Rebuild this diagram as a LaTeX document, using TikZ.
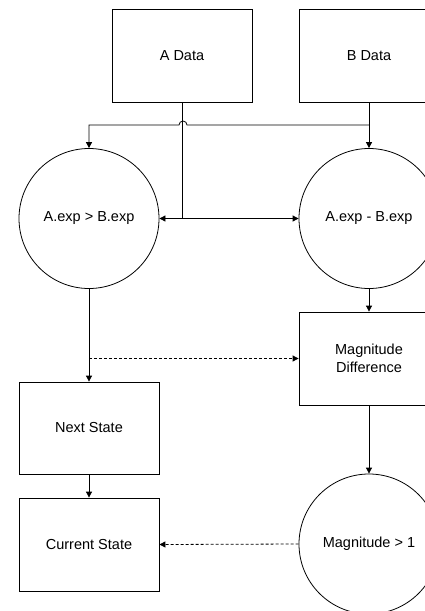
\documentclass[tikz,border=0pt]{standalone}
\usepackage{fontspec}
\setmainfont{Liberation Sans}
\usetikzlibrary{arrows.meta,calc}
\begin{document}
\begin{tikzpicture}[x=1pt,y=1pt,
  every node/.style={font=\fontsize{14.5}{18}\selectfont, align=center},
  boxnode/.style={draw, line width=0.8pt, minimum width=140pt, minimum height=93pt, inner sep=0pt},
  circnode/.style={draw, circle, line width=0.8pt, minimum size=140pt, inner sep=0pt},
  conn/.style={line width=0.8pt, -{Triangle[length=6pt,width=6pt]}},
  dashconn/.style={conn, dash pattern=on 3pt off 2pt}]
\useasboundingbox (0,0) rectangle (425,-611);
\fill[white] (0,0) rectangle (425,-611);
\clip (0,0) rectangle (425,-611);
\node[boxnode] (A) at (182,-55.5) {A Data};
\node[boxnode] (B) at (369,-55.5) {B Data};
\node[circnode] (L) at (89,-218.5) {A.exp > B.exp};
\node[circnode] (R) at (369,-218.5) {A.exp - B.exp};
\node[boxnode] (MD) at (369,-358.5) {Magnitude\\Difference};
\node[boxnode, minimum height=92pt] (NS) at (89,-428) {Next State};
\node[boxnode] (CS) at (89,-544.5) {Current State};
\node[circnode] (M1) at (369,-544) {Magnitude > 1};
\coordinate (bsplit) at (369,-125);
\coordinate (jr) at (187,-125);
\coordinate (lturn) at (89,-125);
\draw[conn] (A.south) |- (L.east);
\draw[conn] (A.south) |- (R.west);
\draw[conn] (B.south) -- (R.north);
\draw[conn] (bsplit) -- (jr) arc (0:180:4) -- (lturn) -- (L.north);
\draw[conn] (L.south) -- (NS.north);
\draw[dashconn] (L.south |- MD.west) -- (MD.west);
\draw[conn] (R.south) -- (MD.north);
\draw[conn] (MD.south) -- (M1.north);
\draw[conn] (NS.south) -- (CS.north);
\draw[dashconn] (M1.west) -- (CS.east);
\end{tikzpicture}
\end{document}
